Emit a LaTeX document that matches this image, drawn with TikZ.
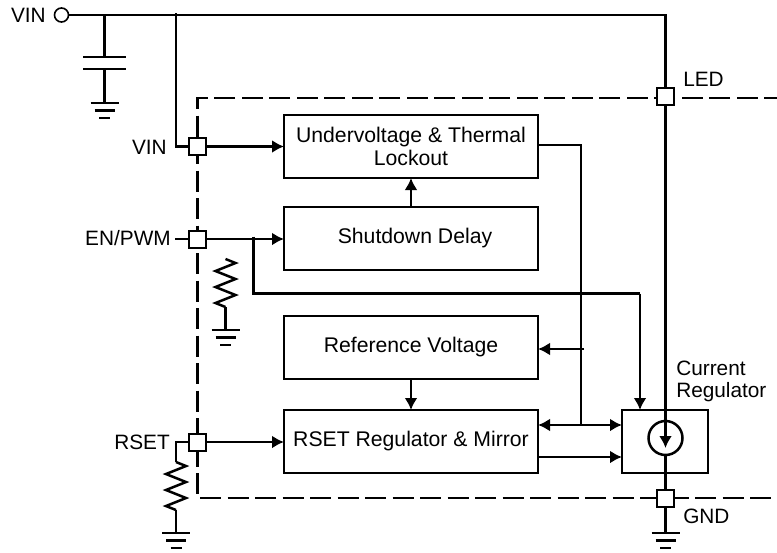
\documentclass[tikz,border=0pt]{standalone}
\usepackage{fontspec}
\setmainfont{Liberation Sans}
\usetikzlibrary{positioning, arrows.meta}

\begin{document}
\begin{tikzpicture}[
  x=0.5pt, y=-0.5pt,
  line width=1.25pt,
  wire/.style={draw, line width=1.25pt},
  sig/.style={wire, -{Latex[length=6pt,width=6.5pt]}},
  dblsig/.style={wire, {Latex[length=6pt,width=6.5pt]}-{Latex[length=6pt,width=6.5pt]}},
  boundary/.style={draw, line width=1.25pt, dash pattern=on 10.5pt off 3.25pt, dash phase=4pt},
  block/.style={draw, fill=white, outer sep=0pt, minimum width=127pt, minimum height=31.5pt, align=center, font=\fontsize{10.6}{11.5}\selectfont},
  pin/.style={draw, fill=white, outer sep=0pt, minimum size=8.5pt, inner sep=0pt, line width=1pt},
  label/.style={inner sep=0pt, font=\fontsize{10.4}{11}\selectfont},
  gnd/.pic={
    \draw (-14,0) -- (14,0);
    \draw (-10,7.5) -- (10,7.5);
    \draw (-5.5,15) -- (5.5,15);
  },
  res/.pic={
    \draw (0,0) -- (10,4) -- (-10,12) -- (10,20) -- (-10,28) -- (10,36) -- (-10,44) -- (0,48);
  }
]
\useasboundingbox (0,0) rectangle (777,552);

% ======================================================
% =============== PACKAGE OUTLINE ======================
% ======================================================
\coordinate (dashTR) at (777,98);
\coordinate (dashTL) at (197.5,98);
\coordinate (dashBL) at (197.5,498);
\coordinate (dashBR) at (777,498);
\draw[boundary] (dashTR) -- (dashTL) -- (dashBL) -- (dashBR);

% pins
\node[pin] (pinVin) at (197.5,146.5) {};
\node[pin] (pinEn) at (197.5,239) {};
\node[pin] (pinRset) at (197.5,442) {};
\node[pin] (pinLed) at (665.5,96.5) {};
\node[pin] (pinGnd) at (665.5,498) {};

% ======================================================
% =============== BLOCKS ===============================
% ======================================================
\node[block] (uvlo) at (411,146.5) {Undervoltage \& Thermal\\Lockout};
\node[block, below=14.5pt of uvlo] (delay) {\hspace*{4pt}Shutdown Delay};
\node[block, below=23pt of delay] (vref) {Reference Voltage};
\node[block, below=15.5pt of vref] (mirror) {RSET Regulator \& Mirror};
\node[draw, outer sep=0pt, minimum width=43pt, minimum height=31.5pt] (creg) at (665,441.5) {};
\node[draw, circle, outer sep=0pt, inner sep=0pt, minimum size=17pt] (isrc) at (665.5,438) {};

% labels
\node[label, anchor=east] (lblVinTop) at (47,15) {VIN};
\node[label, anchor=east] (lblVin) at (168,147) {VIN};
\node[label, anchor=east] (lblEn) at (172,238) {EN/PWM};
\node[label, anchor=east] (lblRset) at (171,442) {RSET};
\node[label, anchor=west] (lblLed) at (682,79) {LED};
\node[label, anchor=west] (lblGnd) at (682,516) {GND};
\node[label, anchor=west, align=left] (lblCreg) at (675,381) {Current\\Regulator};

% ======================================================
% =============== VIN RAIL =============================
% ======================================================
\node[draw, circle, inner sep=0pt, outer sep=0pt, minimum size=7pt, line width=0.8pt] (vinTerm) at (61.5,15) {};
\coordinate (railEnd) at (665.5,15);
\draw[wire] (vinTerm) -- (railEnd) -- (pinLed);
\draw[wire] (pinLed) -- (creg.north -| pinLed);

% input capacitor
\coordinate (capTop) at (104.5,15);
\coordinate (plateA) at (104.5,57);
\coordinate (plateB) at (104.5,69);
\coordinate (capGnd) at (104.5,103);
\draw[wire] (capTop) -- (plateA);
\draw[wire] ([xshift=-10.75pt]plateA) -- ([xshift=10.75pt]plateA);
\draw[wire] ([xshift=-10.75pt]plateB) -- ([xshift=10.75pt]plateB);
\draw[wire] (plateB) -- (capGnd);
\pic at (capGnd) {gnd};

% VIN pin
\coordinate (vinTap) at (176,13);
\coordinate (vinCorner) at (176,146.5);
\draw[wire] (vinTap) -- (vinCorner) -- (pinVin);
\draw[sig] (pinVin) -- (pinVin -| uvlo.west);

% ======================================================
% =============== EN/PWM ===============================
% ======================================================
\coordinate (enStub) at (175,239);
\draw[wire, line width=0.8pt] (enStub) -- (pinEn);
\draw[sig] (pinEn) -- (pinEn -| delay.west);
\coordinate (enTap) at (253.5,236.5);
\coordinate (enCorner) at (253.5,293.5);
\coordinate (enEnd) at (640,293.5);
\draw[wire] (enTap) -- (enCorner) -- (enEnd);
\draw[sig] (enEnd) -- (enEnd |- creg.north);

% resistor, not connected to the line above it
\coordinate (resEnTop) at (225.5,259);
\coordinate (resEnBot) at (225.5,307);
\coordinate (resEnGnd) at (225.5,330);
\pic at (resEnTop) {res};
\draw[wire] (resEnBot) -- (resEnGnd);
\pic at (resEnGnd) {gnd};

% ======================================================
% =============== RSET =================================
% ======================================================
\coordinate (rsetCorner) at (176,442);
\coordinate (resSetTop) at (176,462);
\coordinate (resSetBot) at (176,510);
\coordinate (resSetGnd) at (176,533);
\draw[wire] (pinRset) -- (rsetCorner) -- (resSetTop);
\pic at (resSetTop) {res};
\draw[wire] (resSetBot) -- (resSetGnd);
\pic at (resSetGnd) {gnd};
\draw[sig] (pinRset) -- (pinRset -| mirror.west);

% ======================================================
% =============== INTERNAL SIGNALS =====================
% ======================================================
\draw[sig] (delay) -- (uvlo);
\draw[sig] (vref) -- (mirror);

\coordinate (busTop) at (581,145);
\coordinate (busBot) at (581,425);
\coordinate (busRef) at (584,349);
\draw[wire] (uvlo.east |- busTop) -- (busTop) -- (busBot);
\draw[sig] (busRef) -- (busRef -| vref.east);
\draw[dblsig] (mirror.east |- busBot) -- (creg.west |- busBot);
\coordinate (mirrorOut) at (538,457);
\draw[sig] (mirrorOut) -- (mirrorOut -| creg.west);

% ======================================================
% =============== CURRENT REGULATOR ====================
% ======================================================
\draw[wire] (creg.north -| isrc) -- (isrc.north);
\coordinate (isrcTip) at (665.5,448);
\draw[sig] (isrc.north) -- (isrcTip);
\draw[wire] (isrc.south) -- (pinGnd);
\coordinate (cregGnd) at (665.5,533);
\draw[wire] (pinGnd) -- (cregGnd);
\pic at (cregGnd) {gnd};

\end{tikzpicture}
\end{document}
